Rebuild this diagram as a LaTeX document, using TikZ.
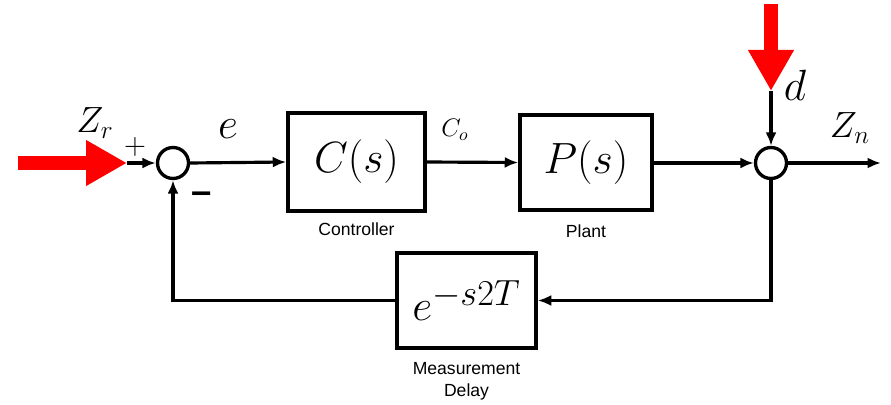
\documentclass[tikz,border=0pt]{standalone}
\usepackage{fontspec}
\usepackage{amsmath}
\usetikzlibrary{arrows.meta, positioning}
\newfontfamily\labelfont{Liberation Sans}
\definecolor{dred}{RGB}{255,0,0}

\tikzset{
  blk/.style={draw, line width=2pt, minimum width=2.74cm, minimum height=1.95cm, font=\Huge},
  sumpt/.style={draw, circle, line width=1.9pt, minimum size=0.62cm, inner sep=0pt},
  sig/.style={line width=1.8pt, -{Latex[length=0.27cm, width=0.22cm]}},
  bigarrow/.style={color=dred, line width=0.28cm, -{Triangle[length=0.82cm, width=0.86cm]}},
  tag/.style={font=\labelfont\fontsize{10}{12}\selectfont},
}

\begin{document}
\begin{tikzpicture}
\useasboundingbox (0,0) rectangle (17.82,8.08);

\node[sumpt] (s1) at (3.46,4.82) {};
\node[blk] (C) at (7.13,4.84) {$C(s)$};
\node[blk, minimum width=2.64cm, minimum height=1.9cm] (P) at (11.72,4.83) {$P(s)$};
\node[sumpt] (s2) at (15.42,4.82) {};
\node[blk, minimum width=2.78cm, minimum height=1.9cm] (D) at (9.33,2.07) {$e^{-s2T}$};

\coordinate (rin) at (0.36,4.82);
\coordinate (rtip) at (2.54,4.82);
\coordinate (dtop) at (15.42,8.0);
\coordinate (dtip) at (15.42,6.26);
\coordinate (out) at (17.62,4.82);
\coordinate (fbR) at (s2.south |- D.east);
\coordinate (fbL) at (s1.south |- D.west);

% inputs
\draw[bigarrow] (rin) -- (rtip);
\draw[sig] (rtip) -- (s1.west);
\draw[bigarrow] (dtop) -- (dtip);
\draw[sig] (dtip) -- (s2.north);

% forward path
\draw[sig] (s1.east) -- (C.west);
\draw[sig] (C.east) -- (P.west);
\draw[sig] (P.east |- s2.west) -- (s2.west);
\draw[sig] (s2.east) -- (out);

% feedback
\draw[sig] (s2.south) -- (fbR) -- (D.east);
\draw[sig] (D.west) -- (fbL) -- (s1.south);

\node[font=\huge] (zr) at (1.9,5.62) {$Z_r$};
\node[font=\LARGE] (plus) at (2.7,5.14) {$+$};
\node[font=\labelfont\bfseries\huge] (minus) at (4.04,4.12) {\textendash};
\node[font=\Huge] (e) at (4.56,5.5) {$e$};
\node[font=\Large] (co) at (9.1,5.48) {$C_o$};
\node[font=\Huge] (d) at (15.9,6.38) {$d$};
\node[font=\huge] (zn) at (17.0,5.52) {$Z_n$};

\node[tag, below=0.08cm of C] {Controller};
\node[tag, below=0.13cm of P] {Plant};
\node[tag, align=center, below=0.12cm of D] {Measurement\\[1pt]Delay};
\end{tikzpicture}
\end{document}
